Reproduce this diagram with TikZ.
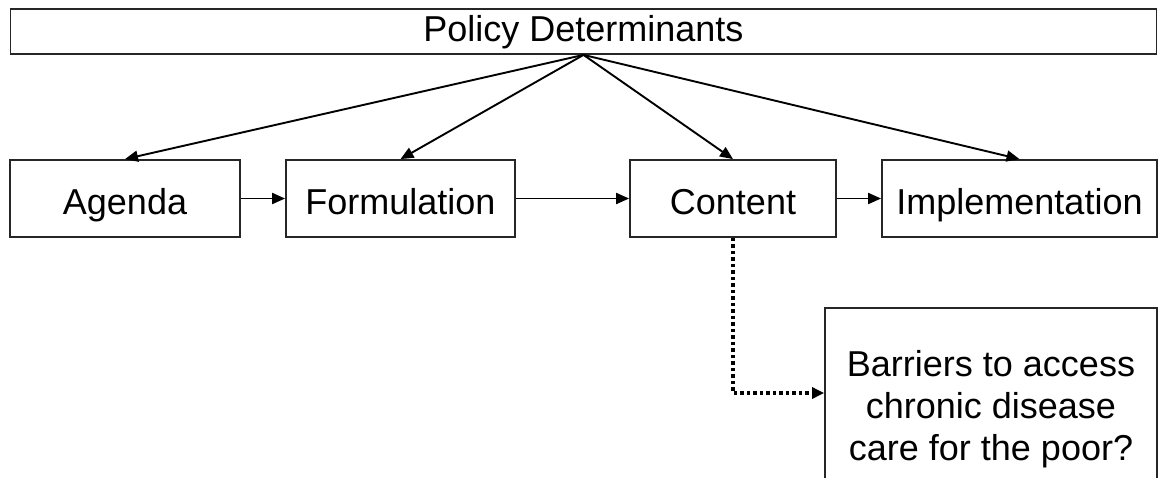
\documentclass[tikz,border=0pt]{standalone}
\usepackage{fontspec}
\setmainfont{Liberation Sans}
\usetikzlibrary{arrows.meta}
\begin{document}
\begin{tikzpicture}[x=1pt,y=-1pt,
  box/.style={draw=black!85,line width=1.8pt,inner sep=0pt,font=\fontsize{36}{41.7}\selectfont,text height=40pt,text depth=8pt},
  arr/.style={line width=1.9pt,-{Triangle[length=13pt,width=11pt]}},
  dotarr/.style={line width=3.5pt,dash pattern=on 3.5pt off 3pt,-{Triangle[length=12pt,width=11pt]}}]
\useasboundingbox (0,0) rectangle (1158,477);
\clip (0,0) rectangle (1158,477);
\node[box,minimum width=1146pt,minimum height=45pt,text height=28pt,text depth=8pt] (top) at (583.5,31.5) {Policy Determinants};
\node[box,minimum width=230pt,minimum height=77pt] (agenda) at (125,198.5) {Agenda};
\node[box,minimum width=229pt,minimum height=77pt] (form) at (400.5,198.5) {Formulation};
\node[box,minimum width=206pt,minimum height=77pt] (content) at (733,198.5) {Content};
\node[box,minimum width=275pt,minimum height=77pt] (impl) at (1019.5,198.5) {Implementation};
\node[box,anchor=north,minimum width=332pt,minimum height=220pt,text height=0pt,text depth=0pt] (bbox) at (991,307) {};
\node[font=\fontsize{36}{41.7}\selectfont,align=center,inner sep=0pt,anchor=base] (btext) at (991,460) {Barriers to access\\chronic disease\\care for the poor?};
\draw[arr] (top.south) -- (agenda.north);
\draw[arr] (top.south) -- (form.north);
\draw[arr] (top.south) -- (content.north);
\draw[arr] (top.south) -- (impl.north);
\draw[arr] (agenda.east) -- (form.west);
\draw[arr] (form.east) -- (content.west);
\draw[arr] (content.east) -- (impl.west);
\draw[dotarr] (content.south) |- (bbox.west |- 0,393);
\end{tikzpicture}
\end{document}
